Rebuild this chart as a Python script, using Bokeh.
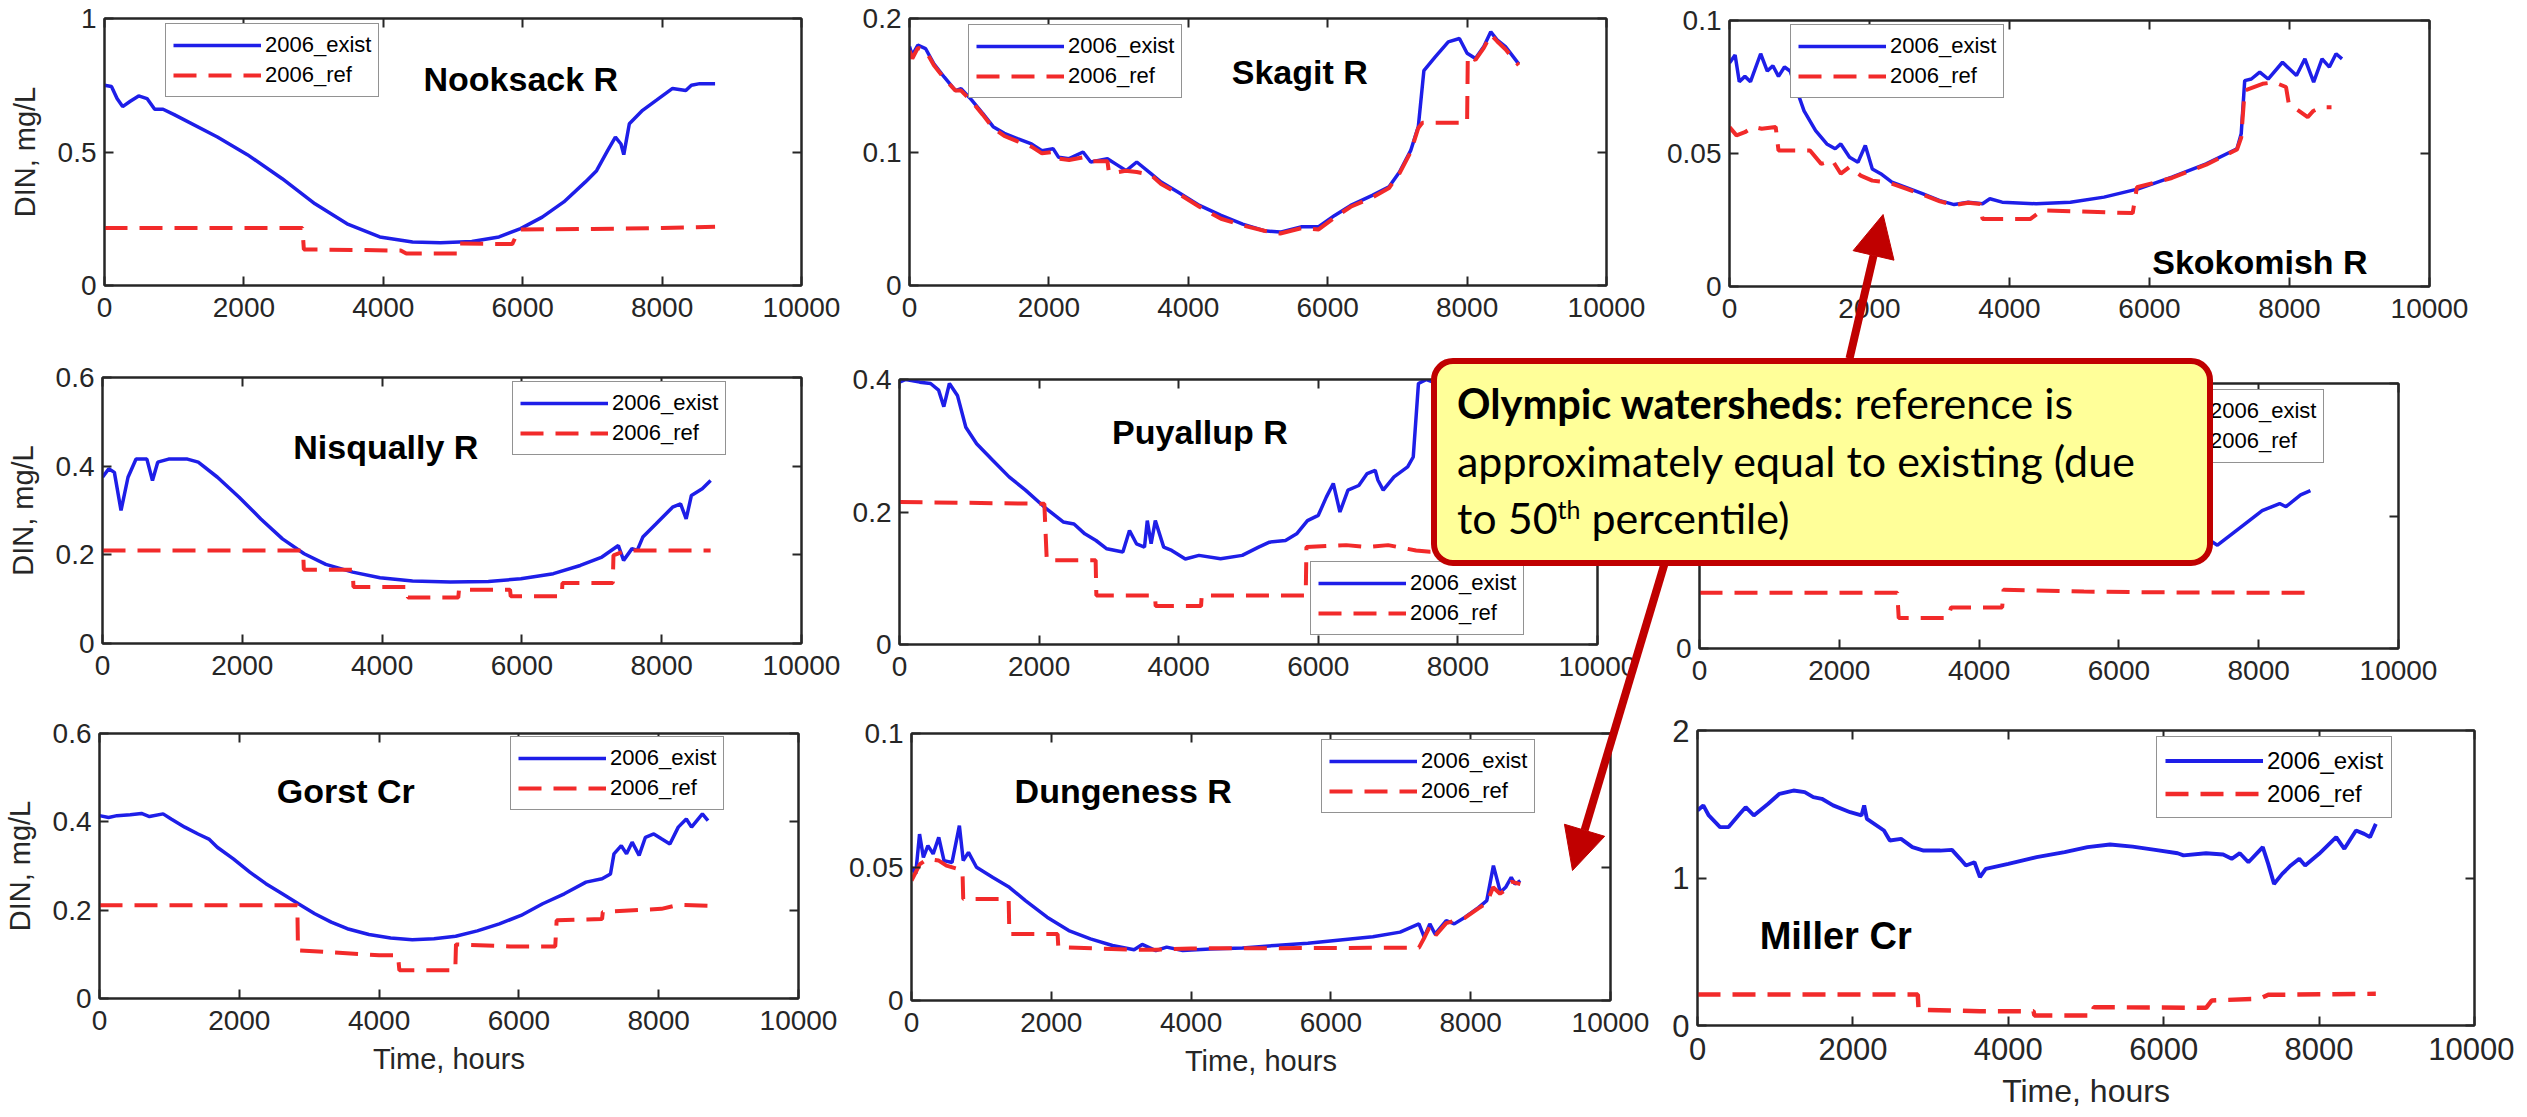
from bokeh.plotting import figure
from bokeh.models import (Range1d, FixedTicker, LinearAxis, Legend, LegendItem, Label,
                          Arrow, NormalHead, Div, Spacer, Column, CustomJSTickFormatter)
from bokeh.embed import file_html
from bokeh.resources import INLINE

# ---------------- data (time in hours, DIN in mg/L) ----------------
X_TICKS = [0, 2000, 4000, 6000, 8000, 10000]
X_TICK_LABELS = ["0", "2000", "4000", "6000", "8000", "10000"]
SERIES_LABELS = ["2006_exist", "2006_ref"]
Y_LABEL = "DIN, mg/L"
X_LABEL = "Time, hours"
CALLOUT_BOLD = "Olympic watersheds"
CALLOUT_LINE1 = ": reference is"
CALLOUT_LINE2 = "approximately equal to existing (due"
CALLOUT_LINE3A = "to 50"
CALLOUT_SUP = "th"
CALLOUT_LINE3B = " percentile)"

NOOKSACK_EXIST = [(0, 0.75), (100, 0.745), (180, 0.70), (260, 0.67), (370, 0.69), (490, 0.71), (610, 0.70),
                  (720, 0.66), (840, 0.66), (1000, 0.64), (1620, 0.556), (2050, 0.49), (2550, 0.40),
                  (3020, 0.306), (3480, 0.231), (3950, 0.182), (4420, 0.163), (4820, 0.16), (5270, 0.165),
                  (5660, 0.182), (5970, 0.213), (6280, 0.256), (6590, 0.313), (6900, 0.388), (7060, 0.43),
                  (7220, 0.506), (7330, 0.556), (7410, 0.53), (7450, 0.49), (7530, 0.606), (7720, 0.656),
                  (7920, 0.694), (8150, 0.738), (8340, 0.73), (8420, 0.75), (8540, 0.756), (8760, 0.756)]
NOOKSACK_REF = [(0, 0.215), (2840, 0.215), (2860, 0.135), (4250, 0.131), (4330, 0.12), (5060, 0.12),
                (5080, 0.157), (5850, 0.155), (5950, 0.21), (7000, 0.212), (8000, 0.215), (8760, 0.22)]

SKAGIT_EXIST = [(0, 0.179), (40, 0.1725), (120, 0.18), (230, 0.1775), (350, 0.166), (500, 0.156), (660, 0.146),
                (740, 0.1475), (890, 0.139), (1050, 0.129), (1200, 0.119), (1360, 0.114), (1550, 0.11),
                (1750, 0.106), (1900, 0.101), (2060, 0.1025), (2140, 0.096), (2290, 0.095), (2490, 0.10),
                (2600, 0.0925), (2840, 0.095), (2990, 0.09), (3110, 0.086), (3260, 0.0925), (3460, 0.084),
                (3610, 0.0775), (3850, 0.07), (4160, 0.06), (4470, 0.0525), (4780, 0.046), (5090, 0.041),
                (5320, 0.04), (5630, 0.044), (5870, 0.044), (6100, 0.0525), (6330, 0.06), (6640, 0.0675),
                (6880, 0.074), (7030, 0.085), (7190, 0.101), (7300, 0.119), (7380, 0.161), (7540, 0.171),
                (7730, 0.1825), (7890, 0.185), (8000, 0.174), (8120, 0.17), (8240, 0.179), (8340, 0.19),
                (8430, 0.184), (8550, 0.179), (8740, 0.166)]
SKAGIT_REF = [(0, 0.176), (40, 0.17), (120, 0.178), (230, 0.176), (350, 0.165), (500, 0.155), (660, 0.146),
              (740, 0.146), (890, 0.138), (1050, 0.128), (1200, 0.118), (1360, 0.112), (1550, 0.108),
              (1750, 0.104), (1900, 0.099), (2060, 0.1), (2140, 0.095), (2290, 0.094), (2490, 0.096),
              (2600, 0.093), (2840, 0.093), (2860, 0.085), (3000, 0.085), (3100, 0.086), (3260, 0.085),
              (3460, 0.083), (3610, 0.076), (3850, 0.069), (4160, 0.059), (4470, 0.05), (4780, 0.045),
              (5090, 0.041), (5320, 0.039), (5630, 0.043), (5870, 0.042), (6100, 0.051), (6330, 0.059),
              (6640, 0.066), (6880, 0.073), (7030, 0.084), (7190, 0.1), (7300, 0.118), (7360, 0.122),
              (8000, 0.122), (8010, 0.172), (8120, 0.169), (8240, 0.178), (8340, 0.188), (8430, 0.183),
              (8550, 0.177), (8740, 0.165)]

SKOKOMISH_EXIST = [(0, 0.084), (80, 0.087), (140, 0.077), (220, 0.079), (300, 0.077), (445, 0.0875),
                   (540, 0.081), (620, 0.083), (700, 0.079), (785, 0.0825), (865, 0.081), (945, 0.075),
                   (1065, 0.066), (1230, 0.0586), (1390, 0.0536), (1510, 0.0518), (1590, 0.0536),
                   (1715, 0.0486), (1835, 0.0467), (1940, 0.053), (2040, 0.0442), (2160, 0.0424),
                   (2320, 0.0392), (2520, 0.0373), (2765, 0.0348), (3005, 0.0323), (3210, 0.0308),
                   (3410, 0.0317), (3615, 0.0311), (3720, 0.033), (3895, 0.0317), (4380, 0.0311),
                   (4870, 0.0317), (5350, 0.0336), (5840, 0.0367), (6320, 0.0411), (6810, 0.0461),
                   (7250, 0.0518), (7310, 0.0574), (7360, 0.0774), (7455, 0.078), (7575, 0.0806),
                   (7695, 0.078), (7900, 0.0843), (8100, 0.0793), (8220, 0.0856), (8345, 0.0768),
                   (8465, 0.0856), (8570, 0.0825), (8665, 0.0875), (8750, 0.0856)]
SKOKOMISH_REF = [(0, 0.0599), (100, 0.0568), (220, 0.058), (340, 0.06), (460, 0.0593), (660, 0.06),
                 (700, 0.0511), (1150, 0.0511), (1310, 0.0461), (1470, 0.0474), (1590, 0.0424),
                 (1715, 0.0449), (1875, 0.0417), (2040, 0.0398), (2280, 0.039), (2520, 0.0368),
                 (2765, 0.0345), (3005, 0.032), (3210, 0.0306), (3410, 0.0315), (3580, 0.031),
                 (3615, 0.0254), (4300, 0.0254), (4460, 0.0286), (5760, 0.0276), (5820, 0.0373),
                 (6320, 0.0408), (6810, 0.0458), (7250, 0.0515), (7310, 0.056), (7360, 0.0737),
                 (7615, 0.0762), (7780, 0.0768), (7950, 0.075), (7990, 0.0687), (8260, 0.0637),
                 (8340, 0.066), (8450, 0.0674), (8600, 0.0674)]

NISQUALLY_EXIST = [(0, 0.375), (90, 0.394), (170, 0.386), (265, 0.30), (365, 0.375), (480, 0.416),
                   (635, 0.416), (715, 0.3675), (790, 0.409), (945, 0.416), (1215, 0.416), (1370, 0.409),
                   (1645, 0.375), (1955, 0.33), (2265, 0.281), (2575, 0.236), (2885, 0.2025),
                   (3195, 0.1785), (3580, 0.161), (3970, 0.1485), (4435, 0.141), (4975, 0.139),
                   (5520, 0.14), (5985, 0.146), (6450, 0.1575), (6835, 0.176), (7145, 0.195),
                   (7380, 0.221), (7455, 0.1875), (7575, 0.214), (7650, 0.21), (7730, 0.24), (7920, 0.27),
                   (8155, 0.3075), (8270, 0.315), (8350, 0.281), (8425, 0.334), (8580, 0.349),
                   (8700, 0.3675)]
NISQUALLY_REF = [(0, 0.21), (2870, 0.21), (2880, 0.1665), (3580, 0.1665), (3590, 0.1275), (4360, 0.1275),
                 (4370, 0.1035), (5090, 0.1035), (5100, 0.1215), (5830, 0.1215), (5840, 0.1065),
                 (6570, 0.1065), (6580, 0.1365), (7300, 0.1365), (7310, 0.199), (7500, 0.21),
                 (8700, 0.21)]

PUYALLUP_EXIST = [(0, 0.396), (90, 0.40), (290, 0.396), (445, 0.394), (560, 0.384), (635, 0.359),
                  (715, 0.394), (830, 0.376), (950, 0.328), (1105, 0.303), (1335, 0.278), (1570, 0.253),
                  (1805, 0.233), (2075, 0.2075), (2345, 0.185), (2500, 0.182), (2655, 0.167),
                  (2815, 0.157), (2970, 0.1445), (3200, 0.1395), (3295, 0.172), (3395, 0.152),
                  (3510, 0.147), (3550, 0.187), (3605, 0.152), (3665, 0.187), (3785, 0.147),
                  (3900, 0.142), (4095, 0.129), (4290, 0.1345), (4600, 0.1295), (4910, 0.1345),
                  (5145, 0.147), (5300, 0.1545), (5530, 0.157), (5690, 0.167), (5845, 0.187),
                  (6000, 0.195), (6115, 0.2225), (6215, 0.243), (6310, 0.20), (6425, 0.233),
                  (6580, 0.240), (6700, 0.258), (6815, 0.263), (6855, 0.248), (6930, 0.233),
                  (7085, 0.253), (7280, 0.268), (7360, 0.283), (7435, 0.394), (7550, 0.40),
                  (7800, 0.39), (8100, 0.38), (8400, 0.37), (8760, 0.36)]
PUYALLUP_REF = [(0, 0.215), (2075, 0.2125), (2110, 0.127), (2810, 0.127), (2820, 0.074), (3660, 0.074),
                (3670, 0.058), (4320, 0.058), (4330, 0.074), (5820, 0.074), (5830, 0.147), (6400, 0.15),
                (6700, 0.147), (7000, 0.15), (7400, 0.142), (7600, 0.14), (8760, 0.14)]

PANEL6_EXIST = [(0, 0.55), (300, 0.58), (600, 0.56), (1000, 0.53), (1500, 0.45), (2000, 0.38), (2500, 0.34),
                (2800, 0.33), (3100, 0.32), (3400, 0.335), (3700, 0.33), (4200, 0.36), (5000, 0.40),
                (5800, 0.43), (6500, 0.45), (7000, 0.44), (7170, 0.43), (7410, 0.39), (7740, 0.457),
                (8050, 0.52), (8300, 0.547), (8390, 0.535), (8600, 0.58), (8740, 0.596)]
PANEL6_REF = [(0, 0.21), (2830, 0.21), (2850, 0.115), (3550, 0.115), (3600, 0.155), (4330, 0.155),
              (4350, 0.222), (5500, 0.215), (6500, 0.212), (8750, 0.21)]

GORST_EXIST = [(0, 0.414), (130, 0.41), (250, 0.414), (440, 0.416), (600, 0.419), (715, 0.412), (910, 0.418),
               (1025, 0.4065), (1220, 0.388), (1410, 0.3725), (1565, 0.361), (1685, 0.3425), (1915, 0.316),
               (2150, 0.286), (2380, 0.26), (2615, 0.237), (2845, 0.2145), (3080, 0.192), (3315, 0.173),
               (3545, 0.158), (3855, 0.145), (4165, 0.137), (4475, 0.133), (4785, 0.1355), (5095, 0.141),
               (5405, 0.153), (5720, 0.169), (6030, 0.188), (6340, 0.2145), (6650, 0.237), (6960, 0.2635),
               (7190, 0.271), (7310, 0.282), (7360, 0.3275), (7465, 0.346), (7540, 0.3275), (7620, 0.354),
               (7720, 0.324), (7810, 0.365), (7930, 0.3725), (8045, 0.361), (8160, 0.35), (8280, 0.388),
               (8395, 0.4065), (8470, 0.388), (8625, 0.418), (8705, 0.403)]
GORST_REF = [(0, 0.211), (2830, 0.211), (2840, 0.109), (4000, 0.098), (4270, 0.098), (4290, 0.064),
             (5090, 0.064), (5100, 0.1225), (5870, 0.118), (6520, 0.118), (6540, 0.177), (7190, 0.18),
             (7200, 0.196), (8040, 0.203), (8280, 0.212), (8700, 0.21)]

DUNGENESS_EXIST = [(0, 0.0499), (60, 0.0474), (115, 0.0623), (170, 0.0536), (235, 0.058), (310, 0.0549),
                   (390, 0.0611), (465, 0.0524), (580, 0.0517), (685, 0.0655), (740, 0.0524), (815, 0.0555),
                   (930, 0.0499), (1165, 0.0461), (1400, 0.0424), (1630, 0.0374), (1940, 0.0312),
                   (2250, 0.0262), (2560, 0.0231), (2875, 0.0206), (3185, 0.019), (3300, 0.021),
                   (3495, 0.0187), (3650, 0.02), (3880, 0.0187), (4270, 0.0193), (4735, 0.0197),
                   (5200, 0.0206), (5670, 0.0214), (6135, 0.0227), (6600, 0.0239), (6990, 0.0256),
                   (7260, 0.0287), (7335, 0.0237), (7415, 0.0287), (7490, 0.0249), (7650, 0.0299),
                   (7765, 0.0287), (7920, 0.0312), (8115, 0.0349), (8230, 0.0374), (8325, 0.0505),
                   (8425, 0.0405), (8500, 0.0424), (8580, 0.0461), (8635, 0.0436), (8710, 0.0449)]
DUNGENESS_REF = [(0, 0.0449), (120, 0.0511), (230, 0.053), (390, 0.0524), (500, 0.0505), (660, 0.0493),
                 (730, 0.048), (740, 0.038), (1390, 0.038), (1400, 0.0249), (2090, 0.0249), (2100, 0.02),
                 (3180, 0.019), (3500, 0.019), (4000, 0.0195), (7260, 0.0198), (7340, 0.0237),
                 (7420, 0.028), (7500, 0.0245), (7650, 0.029), (7920, 0.031), (8110, 0.0345),
                 (8230, 0.0365), (8320, 0.0424), (8420, 0.040), (8500, 0.0415), (8580, 0.0445),
                 (8710, 0.0436)]

MILLER_EXIST = [(0, 1.458), (75, 1.492), (145, 1.424), (290, 1.345), (400, 1.345), (545, 1.435),
                (620, 1.48), (725, 1.424), (910, 1.503), (1055, 1.571), (1235, 1.593), (1380, 1.582),
                (1490, 1.548), (1600, 1.537), (1745, 1.492), (1965, 1.446), (2110, 1.424), (2145, 1.492),
                (2180, 1.401), (2400, 1.322), (2475, 1.254), (2620, 1.265), (2765, 1.209), (2910, 1.186),
                (3125, 1.186), (3275, 1.191), (3380, 1.13), (3455, 1.085), (3565, 1.107), (3635, 1.006),
                (3710, 1.062), (4000, 1.096), (4365, 1.141), (4725, 1.175), (5020, 1.209), (5310, 1.227),
                (5600, 1.213), (5890, 1.191), (6180, 1.168), (6255, 1.153), (6545, 1.168), (6765, 1.159),
                (6875, 1.13), (6980, 1.168), (7090, 1.107), (7275, 1.209), (7345, 1.096), (7420, 0.96),
                (7525, 1.028), (7635, 1.085), (7745, 1.13), (7820, 1.085), (8000, 1.164), (8220, 1.277),
                (8325, 1.198), (8475, 1.322), (8580, 1.299), (8655, 1.277), (8730, 1.367)]
MILLER_REF = [(0, 0.21), (2835, 0.21), (2845, 0.106), (3635, 0.097), (4325, 0.097), (4335, 0.068),
              (5090, 0.068), (5100, 0.124), (6545, 0.12), (6620, 0.17), (7235, 0.181), (7345, 0.208),
              (8730, 0.215)]

# ---------------- styling / layout ----------------
FONT = "Liberation Sans"
BLUE = "#1e1ee8"
RED = "#f22a2a"
AXC = "#262626"
DARKRED = "#C00000"
PAGE_W, PAGE_H = 2527, 1117
BL, BT, BR, BB = 130, 60, 40, 130

PANELS = [
    dict(title="Nooksack R", exist=NOOKSACK_EXIST, ref=NOOKSACK_REF, ymax=1.0, yticks=[0, 0.5, 1],
         ylabels=["0", "0.5", "1"], frame=(104, 18, 697, 267), title_xy=(4577, 0.775), legend=(61, 188),
         ylab=True, xlab=False, s=1.0),
    dict(title="Skagit R", exist=SKAGIT_EXIST, ref=SKAGIT_REF, ymax=0.2, yticks=[0, 0.1, 0.2],
         ylabels=["0", "0.1", "0.2"], frame=(909, 18, 697, 267), title_xy=(4623, 0.16), legend=(59, 187),
         ylab=False, xlab=False, s=1.0),
    dict(title="Skokomish R", exist=SKOKOMISH_EXIST, ref=SKOKOMISH_REF, ymax=0.1, yticks=[0, 0.05, 0.1],
         ylabels=["0", "0.05", "0.1"], frame=(1729, 20, 700, 266), title_xy=(6039, 0.0092), legend=(61, 188),
         ylab=False, xlab=False, s=1.0),
    dict(title="Nisqually R", exist=NISQUALLY_EXIST, ref=NISQUALLY_REF, ymax=0.6, yticks=[0, 0.2, 0.4, 0.6],
         ylabels=["0", "0.2", "0.4", "0.6"], frame=(102, 377, 699, 266), title_xy=(2729, 0.4425),
         legend=(410, 188), ylab=True, xlab=False, s=1.0),
    dict(title="Puyallup R", exist=PUYALLUP_EXIST, ref=PUYALLUP_REF, ymax=0.4, yticks=[0, 0.2, 0.4],
         ylabels=["0", "0.2", "0.4"], frame=(899, 379, 698, 265), title_xy=(3046, 0.321), legend=(411, 9),
         ylab=False, xlab=False, s=1.0),
    dict(title=None, exist=PANEL6_EXIST, ref=PANEL6_REF, ymax=1.0, yticks=[0, 0.5, 1],
         ylabels=["0", "", ""], frame=(1699, 383, 699, 265), title_xy=None, legend=(411, 185),
         ylab=False, xlab=False, s=1.0),
    dict(title="Gorst Cr", exist=GORST_EXIST, ref=GORST_REF, ymax=0.6, yticks=[0, 0.2, 0.4, 0.6],
         ylabels=["0", "0.2", "0.4", "0.6"], frame=(99, 733, 699, 265), title_xy=(2537, 0.4705),
         legend=(411, 188), ylab=True, xlab=True, s=1.0),
    dict(title="Dungeness R", exist=DUNGENESS_EXIST, ref=DUNGENESS_REF, ymax=0.1, yticks=[0, 0.05, 0.1],
         ylabels=["0", "0.05", "0.1"], frame=(911, 733, 699, 267), title_xy=(1475, 0.0786), legend=(410, 187),
         ylab=False, xlab=True, s=1.0),
    dict(title="Miller Cr", exist=MILLER_EXIST, ref=MILLER_REF, ymax=2.0, yticks=[0, 1, 2],
         ylabels=["0", "1", "2"], frame=(1697, 730, 777, 295), title_xy=(800, 0.61), legend=(459, 207),
         ylab=False, xlab=True, s=1.11),
]

ARROWS = [(1843, 358, 1879, 214), (1647, 556, 1546, 870)]
CALLOUT_BOX = (1426, 353, 782, 208)


def style_axis(ax, s):
    ax.axis_line_color = AXC
    ax.axis_line_width = 2
    ax.major_tick_line_color = AXC
    ax.major_tick_line_width = 2
    ax.major_tick_in = 9
    ax.major_tick_out = 0
    ax.minor_tick_in = 0
    ax.minor_tick_out = 0
    ax.major_label_text_font = FONT
    ax.major_label_text_font_size = f"{round(28 * s)}px"
    ax.major_label_text_color = AXC
    ax.axis_label_text_font = FONT
    ax.axis_label_text_font_size = f"{round(29 * s)}px"
    ax.axis_label_text_font_style = "normal"
    ax.axis_label_text_color = AXC


def make_panel(cfg):
    fl, ft, fw, fh = cfg["frame"]
    s = cfg["s"]
    p = figure(frame_width=fw, frame_height=fh, min_border_left=BL, min_border_top=BT,
               min_border_right=BR, min_border_bottom=BB,
               x_range=Range1d(0, 10000), y_range=Range1d(0, cfg["ymax"]),
               output_backend="svg", toolbar_location=None,
               background_fill_color="white", border_fill_color=None,
               outline_line_color=AXC, outline_line_width=2)
    p.styles = {"position": "absolute", "left": f"{fl - BL}px", "top": f"{ft - BT}px"}
    p.grid.visible = False

    xa, ya = p.xaxis[0], p.yaxis[0]
    xa.ticker = FixedTicker(ticks=X_TICKS)
    xa.major_label_overrides = dict(zip(X_TICKS, X_TICK_LABELS))
    ya.ticker = FixedTicker(ticks=cfg["yticks"])
    ya.major_label_overrides = dict(zip(cfg["yticks"], cfg["ylabels"]))
    style_axis(xa, s)
    style_axis(ya, s)
    xa.major_label_standoff = 12
    ya.major_label_standoff = 8
    if cfg["ylab"]:
        ya.axis_label = Y_LABEL
        ya.axis_label_standoff = 14
    if cfg["xlab"]:
        xa.axis_label = X_LABEL
        xa.axis_label_standoff = 10

    blank = CustomJSTickFormatter(code="return ''")
    top = LinearAxis(ticker=FixedTicker(ticks=X_TICKS), formatter=blank)
    right = LinearAxis(ticker=FixedTicker(ticks=cfg["yticks"]), formatter=blank)
    for ax in (top, right):
        style_axis(ax, s)
        ax.major_label_text_font_size = "0px"
        ax.major_label_standoff = 0
    p.add_layout(top, "above")
    p.add_layout(right, "right")

    te, ve = zip(*cfg["exist"])
    tr, vr = zip(*cfg["ref"])
    r1 = p.line(list(te), list(ve), line_color=BLUE, line_width=3.5 * s)
    r2 = p.line(list(tr), list(vr), line_color=RED, line_width=4 * s, line_dash="23 12")

    leg = Legend(items=[LegendItem(label=SERIES_LABELS[0], renderers=[r1]),
                        LegendItem(label=SERIES_LABELS[1], renderers=[r2])],
                 location=cfg["legend"])
    leg.label_text_font = FONT
    leg.label_text_font_size = f"{round(22 * s)}px"
    leg.label_text_color = "black"
    leg.glyph_width = round(88 * s)
    leg.glyph_height = round(28 * s)
    leg.label_height = round(28 * s)
    leg.label_standoff = 4
    leg.padding = round(7 * s)
    leg.spacing = 2
    leg.margin = 0
    leg.border_line_color = AXC
    leg.border_line_width = 1.5
    leg.background_fill_color = "white"
    leg.background_fill_alpha = 1.0
    p.add_layout(leg)

    if cfg["title"]:
        tx, ty = cfg["title_xy"]
        p.add_layout(Label(x=tx, y=ty, text=cfg["title"], text_font=FONT,
                           text_font_size=f"{round(34 * s)}px", text_font_style="bold",
                           text_color="black", text_baseline="alphabetic", text_align="left"))
    return p


figs = [make_panel(c) for c in PANELS]

# overlay with the two callout arrows (pixel coordinates of the page)
ov = figure(width=PAGE_W, height=PAGE_H, x_range=Range1d(0, PAGE_W), y_range=Range1d(PAGE_H, 0),
            x_axis_type=None, y_axis_type=None, min_border=0, output_backend="svg",
            toolbar_location=None, background_fill_color=None, border_fill_color=None,
            outline_line_color=None)
ov.styles = {"position": "absolute", "left": "0px", "top": "0px", "pointer-events": "none"}
for (x0, y0, x1, y1) in ARROWS:
    ov.add_layout(Arrow(end=NormalHead(size=42, fill_color=DARKRED, line_color=DARKRED, line_width=1),
                        x_start=x0, y_start=y0, x_end=x1, y_end=y1,
                        line_color=DARKRED, line_width=8))

cx, cy, cw, ch = CALLOUT_BOX
sup_style = "font-size:25px;line-height:0;vertical-align:super;"
callout_html = (
    f'<div style="box-sizing:border-box;width:{cw}px;height:{ch}px;border:6px solid {DARKRED};'
    'border-radius:22px;background:#FFFF99;padding:10px 0 0 20px;font-family:Lato, sans-serif;'
    'font-size:43px;line-height:57px;color:#000;white-space:nowrap;">'
    f'<b style="font-size:41.5px;">{CALLOUT_BOLD}</b>{CALLOUT_LINE1}<br>{CALLOUT_LINE2}<br>'
    f'{CALLOUT_LINE3A}<span style="{sup_style}">{CALLOUT_SUP}</span>{CALLOUT_LINE3B}'
    '</div>'
)
callout = Div(text=callout_html, width=cw, height=ch,
              styles={"position": "absolute", "left": f"{cx}px", "top": f"{cy}px"})

layout = Column(children=[Spacer(width=PAGE_W, height=PAGE_H)] + figs + [ov, callout],
                width=PAGE_W, height=PAGE_H,
                styles={"position": "relative", "overflow": "hidden", "background": "white"})

open("out.html", "w").write(file_html(layout, INLINE))
